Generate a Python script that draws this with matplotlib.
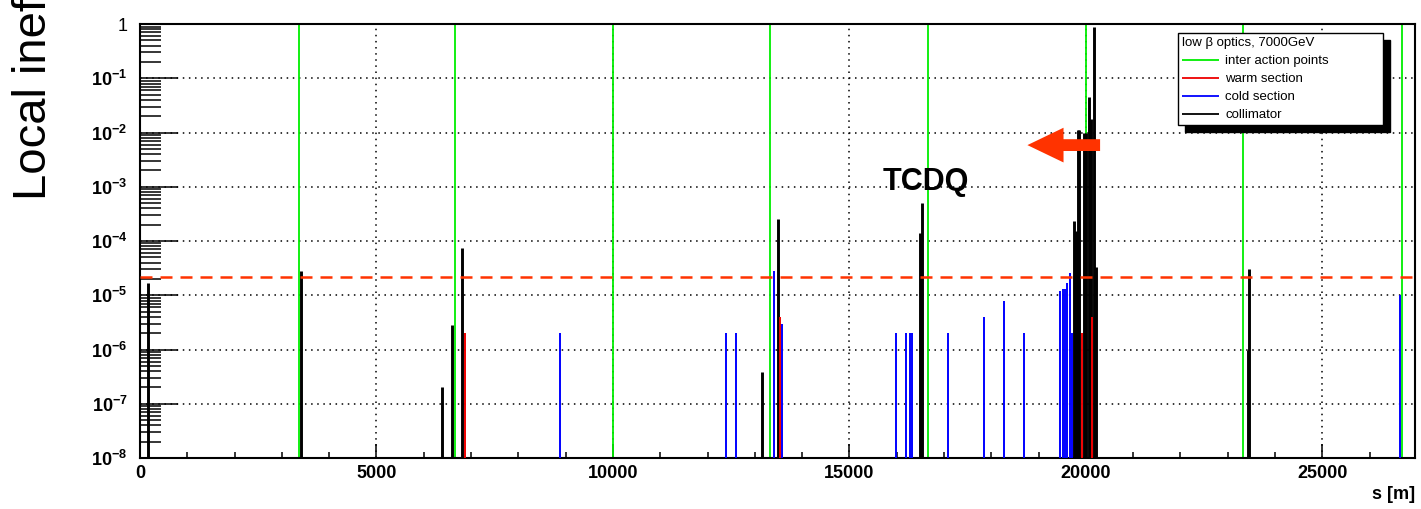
import numpy as np
import matplotlib
matplotlib.use('Agg')
import matplotlib.pyplot as plt
from matplotlib.ticker import LogLocator, MultipleLocator, FuncFormatter, NullFormatter

plt.rcParams['font.family'] = ['Liberation Sans', 'DejaVu Sans']
plt.rcParams['mathtext.fontset'] = 'custom'
plt.rcParams['mathtext.rm'] = 'Liberation Sans:bold'
plt.rcParams['mathtext.default'] = 'rm'

############################################################
### DATA
############################################################
# interaction points [m]
ip_s = [3360, 6670, 10010, 13320, 16665, 20010, 23330, 26680]

# collimators
coll_s = [170, 3410, 6396, 6607, 6819, 13151, 13490, 16497, 16540,
          19759, 19801, 19843, 19865, 19960, 20005, 20076, 20118,
          20182, 20214, 23422, 23443]
coll_eff = [1.7e-5, 2.8e-5, 2e-7, 2.8e-6, 7.5e-5, 3.9e-7, 2.6e-4, 1.4e-4, 5e-4,
            2.3e-4, 1.5e-4, 1.1e-2, 1.1e-2, 1e-2, 1e-2, 4.5e-2, 1.8e-2,
            0.88, 3.3e-5, 1e-6, 3.1e-5]

# cold sections
cold_s = [8873, 12389, 12600, 13405, 13575, 15989, 16201, 16286, 16328,
          17090, 17853, 18276, 18700, 19462, 19525, 19568, 19610, 19673,
          19716, 26642]
cold_eff = [2e-6, 2e-6, 2e-6, 2.8e-5, 3e-6, 2e-6, 2e-6, 2e-6, 2e-6,
            2e-6, 4e-6, 7.8e-6, 2e-6, 1.2e-5, 1.3e-5, 1.3e-5, 1.7e-5, 2.6e-5,
            2e-6, 1e-5]

# warm sections
warm_s = [6862, 13532, 19928, 20140]
warm_eff = [2e-6, 4e-6, 2e-6, 4e-6]

threshold = 2.2e-5
ymin, ymax = 1e-8, 1.0
xmax = 26960

############################################################
### PLOT
############################################################
fig = plt.figure(figsize=(14.21, 5.09), dpi=100)
ax = fig.add_axes([0.0985, 0.1002, 0.8973, 0.8526])
ax.set_yscale('log')

h_ip = ax.vlines(ip_s, ymin, ymax, colors='#00ee00', lw=1.3, zorder=2)
h_coll = ax.vlines(coll_s, ymin, coll_eff, colors='black', lw=2.1, zorder=3)
h_cold = ax.vlines(cold_s, ymin, cold_eff, colors='#0000ff', lw=1.4, zorder=4)
h_warm = ax.vlines(warm_s, ymin, warm_eff, colors='#ee0000', lw=1.4, zorder=5)

ax.axhline(threshold, color='#ff3300', lw=1.8, ls=(0, (4.8, 3.2)), zorder=6)

# annotations
ax.text(15713, 1.2e-3, 'TCDQ', fontsize=22, fontweight='bold', ha='left', va='center')
ax.annotate('', xy=(0.696, 0.721), xytext=(0.753, 0.721), xycoords='axes fraction',
            arrowprops=dict(facecolor='#ff3300', edgecolor='none', width=8.5,
                            headwidth=25, headlength=26, shrink=0))

# axes decoration
ax.set_xlim(0, xmax)
ax.set_ylim(ymin, ymax)
ax.xaxis.set_major_locator(MultipleLocator(5000))
ax.xaxis.set_minor_locator(MultipleLocator(1000))
ax.yaxis.set_major_locator(LogLocator(base=10, numticks=20))
ax.yaxis.set_minor_locator(LogLocator(base=10, subs=np.arange(2, 10), numticks=100))
ax.yaxis.set_minor_formatter(NullFormatter())


def _fmt(v, pos):
    e = int(round(np.log10(v)))
    if e == 0:
        return '1'
    return r'$10^{%d}$' % e


ax.yaxis.set_major_formatter(FuncFormatter(_fmt))
ax.tick_params(axis='both', which='both', direction='in', top=False, right=False,
               width=1.1, color='black')
ax.tick_params(axis='y', which='major', length=27, pad=9, labelsize=13)
ax.tick_params(axis='y', which='minor', length=15)
ax.tick_params(axis='x', which='major', length=10, pad=5, labelsize=13)
ax.tick_params(axis='x', which='minor', length=4.5)
for lbl in ax.get_xticklabels():
    lbl.set_fontweight('bold')

for sp in ax.spines.values():
    sp.set_linewidth(1.5)

ax.grid(True, which='major', ls=(0, (1, 3)), color='black', lw=1.1)

ax.set_xlabel('s [m]', loc='right', fontsize=13, fontweight='bold', labelpad=3)
fig.text(0.024, 0.607, 'Local inefficiency', rotation=90, ha='center', va='bottom',
         fontsize=34)

leg = ax.legend([h_ip, h_warm, h_cold, h_coll],
                ['inter action points', 'warm section', 'cold section', 'collimator'],
                title='low \u03b2 optics, 7000GeV', title_fontsize=9.5, fontsize=9.5,
                loc='upper left', bbox_to_anchor=(0.814, 0.755, 0.161, 0.224),
                mode='expand', borderaxespad=0, alignment='left', fancybox=False,
                edgecolor='black', framealpha=1, handlelength=2.8,
                labelspacing=0.44, borderpad=0.3, handletextpad=0.5,
                shadow={'ox': 5, 'oy': -5, 'facecolor': 'black',
                        'edgecolor': 'black', 'alpha': 1})
leg.get_frame().set_linewidth(1.0)
for line in leg.get_lines():
    line.set_linewidth(1.3)
leg.set_zorder(10)

fig.savefig('out.png', dpi=100)
